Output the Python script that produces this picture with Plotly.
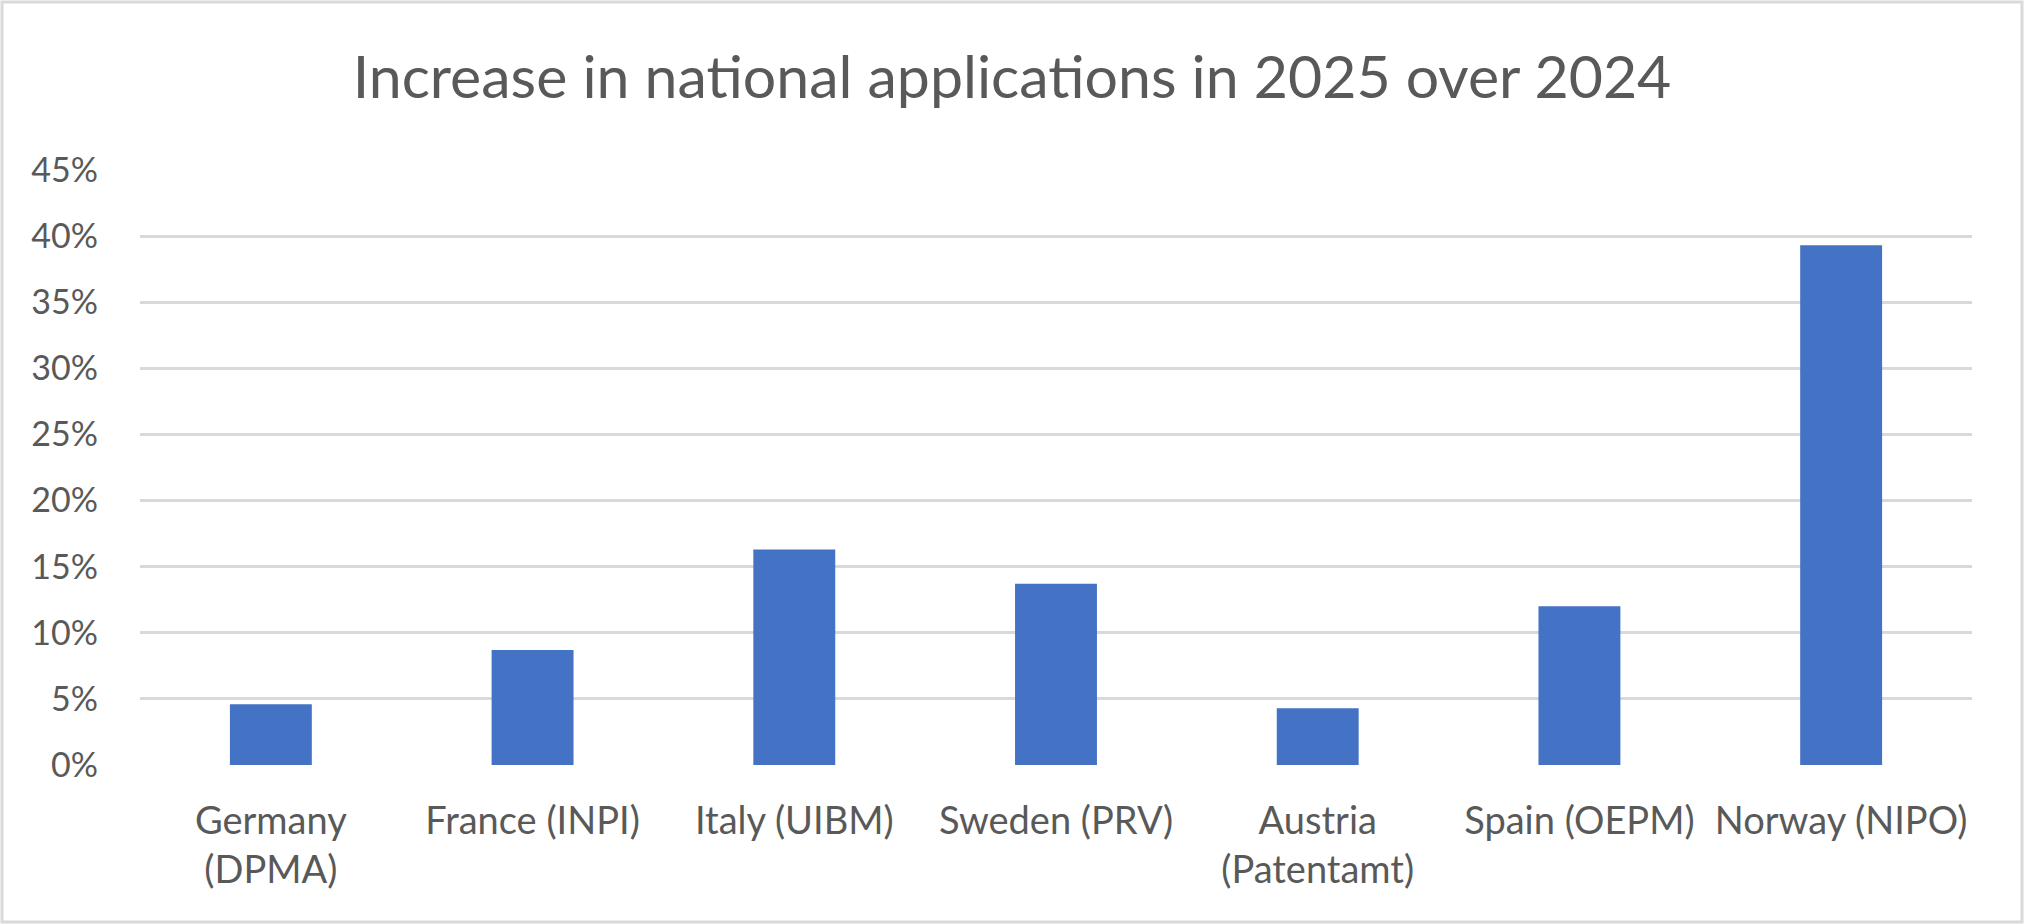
import plotly.graph_objects as go

categories = ["Germany<br>(DPMA)", "France (INPI)", "Italy (UIBM)", "Sweden (PRV)",
              "Austria<br>(Patentamt)", "Spain (OEPM)", "Norway (NIPO)"]
values = [0.046, 0.087, 0.163, 0.137, 0.043, 0.120, 0.393]
tick_vals = [0, 0.05, 0.10, 0.15, 0.20, 0.25, 0.30, 0.35, 0.40, 0.45]
tick_text = ["0%", "5%", "10%", "15%", "20%", "25%", "30%", "35%", "40%", "45%"]
title_text = "Increase in national applications in 2025 over 2024"

W, H = 2024, 924
ML, MR, MT, MB = 140, 52, 170, 159
FONT = "Lato, 'Open Sans', sans-serif"
GREY = "#595959"

fig = go.Figure(go.Bar(x=categories, y=values, marker=dict(color="#4472C4", line=dict(width=0)),
                       hoverinfo="x+y"))

pw = W - ML - MR
ph = H - MT - MB
fig.add_shape(type="rect", xref="paper", yref="paper",
              x0=(-ML + 2) / pw, x1=1 + (MR - 2) / pw,
              y0=(-MB + 2) / ph, y1=1 + (MT - 2) / ph,
              line=dict(color="#D9D9D9", width=3), layer="below")

fig.update_layout(
    width=W, height=H,
    margin=dict(l=ML, r=MR, t=MT, b=MB, pad=0),
    paper_bgcolor="white", plot_bgcolor="white",
    bargap=0.687,
    showlegend=False,
    title=dict(text=title_text, x=0.5, xanchor="center", xref="container",
               y=1 - 77 / H, yanchor="middle", yref="container",
               font=dict(family=FONT, size=59, color=GREY)),
    font=dict(family=FONT, color=GREY),
)
fig.update_xaxes(showgrid=False, showline=False, zeroline=False, ticks="",
                 tickfont=dict(size=38, color=GREY, family=FONT),
                 ticklabelstandoff=30)
fig.update_yaxes(range=[0, 0.45], tickvals=tick_vals, ticktext=tick_text,
                 showgrid=True, gridcolor="#D9D9D9", gridwidth=2.6,
                 zeroline=False, showline=False, ticks="",
                 tickfont=dict(size=34, color=GREY, family=FONT),
                 ticklabelstandoff=41)

fig.write_html("out.html", config={"displayModeBar": False},
               post_script="document.body.style.margin='0';document.body.style.overflow='hidden';")
